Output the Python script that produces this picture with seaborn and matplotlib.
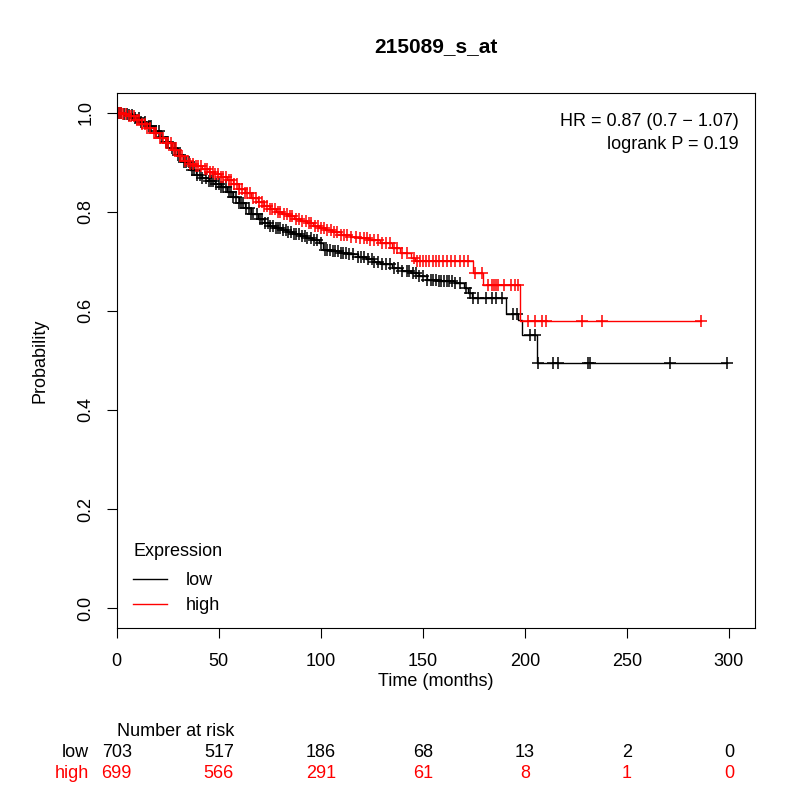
import numpy as np
import pandas as pd
import matplotlib
matplotlib.use("Agg")
from matplotlib import pyplot as plt
import seaborn as sns

# Kaplan-Meier curves (time in months, survival)
low_t = [0, 3, 6, 9, 12, 15, 18, 21, 24, 27, 30, 33, 36, 39, 42, 45, 48, 51, 54,
         57, 60, 63, 66, 69, 72, 75, 78, 81, 84, 87, 90, 93, 96, 99, 101, 105, 110,
         114, 118, 122, 126, 130, 135, 140, 144, 148, 152, 158, 166, 170, 172, 174,
         191, 196.6, 198.5, 206, 299.2]
low_s = [1.0, 0.998, 0.995, 0.99, 0.982, 0.972, 0.962, 0.95, 0.94, 0.928, 0.915,
         0.9, 0.885, 0.875, 0.868, 0.862, 0.856, 0.85, 0.84, 0.83, 0.818, 0.807,
         0.796, 0.785, 0.777, 0.772, 0.767, 0.763, 0.759, 0.755, 0.751, 0.747,
         0.742, 0.736, 0.722, 0.72, 0.717, 0.714, 0.709, 0.704, 0.699, 0.694,
         0.687, 0.681, 0.677, 0.67, 0.663, 0.66, 0.657, 0.646, 0.636, 0.626,
         0.594, 0.582, 0.552, 0.495, 0.495]

high_t = [0, 3, 6, 9, 12, 15, 18, 21, 24, 27, 30, 33, 36, 39, 42, 45, 48, 51, 54,
          57, 60, 63, 66, 69, 72, 75, 78, 81, 84, 87, 90, 93, 96, 99, 102, 106,
          110, 115, 119, 124, 129, 135, 139, 144, 146, 174.5, 179.4, 197.5, 286.3]
high_s = [1.0, 0.998, 0.993, 0.985, 0.977, 0.968, 0.958, 0.948, 0.938, 0.925,
          0.912, 0.903, 0.897, 0.892, 0.887, 0.881, 0.876, 0.871, 0.865, 0.856,
          0.846, 0.837, 0.828, 0.82, 0.812, 0.806, 0.8, 0.795, 0.791, 0.786, 0.782,
          0.777, 0.772, 0.768, 0.764, 0.759, 0.754, 0.75, 0.747, 0.742, 0.737,
          0.727, 0.717, 0.707, 0.7, 0.677, 0.653, 0.58, 0.58]

# censoring times
low_cens = [1, 2, 3.5, 5, 6, 7.5, 9, 11, 12, 14, 16, 17, 19, 20.5, 22, 24, 25, 27,
            28.5, 30, 31, 33, 34, 35.5, 37, 38, 39.5, 41, 42, 43.5, 45, 46, 47,
            48.5, 50, 51, 52, 53.5, 55, 56, 57, 58.5, 60, 61, 62, 63.5, 65, 66, 67,
            68.5, 70, 71, 72.5, 74, 75, 76.5, 78, 79, 80, 81.5, 83, 84, 85.5, 87,
            88, 89.5, 91, 92, 93, 95, 96.5, 98, 100, 102, 103, 104.5, 106, 107,
            108.5, 110, 111, 112.5, 114, 116, 118, 119.5, 121, 123, 125, 126, 128,
            130, 132, 134, 136, 138, 140, 142, 143, 145, 146.5, 148, 150, 152, 154,
            155, 156.5, 158, 159, 160.5, 162, 163, 164.5, 166, 168, 171, 173,
            174.5, 177, 181, 184, 186, 189, 194, 196, 202.5, 205, 206.5, 213.9,
            216.3, 231, 231.9, 271.1, 299.2]
high_cens = [1, 2, 3, 4.5, 6, 7, 8.5, 10, 11, 12.5, 14, 15, 16.5, 18, 19, 21, 22.5,
             24, 25, 26.5, 28, 29, 31, 32, 33.5, 35, 36, 37.5, 39, 40, 41.5, 43, 44,
             45.5, 47, 48, 49.5, 51, 52, 53.5, 55, 56, 57.5, 59, 60, 61.5, 63, 64,
             65.5, 67, 68, 69.5, 71, 72, 73.5, 75, 76, 77.5, 79, 80, 82, 83.5, 85,
             86, 88, 89.5, 91, 92.5, 94, 95, 97, 98.5, 100, 101.5, 103, 105, 106.5,
             108, 110, 111.5, 113, 115, 117, 119, 121, 122.5, 124, 126, 128, 130,
             132, 134, 136, 137.5, 140, 142, 145.5, 147, 148.5, 150, 151.5, 153,
             155, 156.5, 158, 160, 162, 164, 166, 168, 170, 172, 175.5, 179, 182,
             184, 185, 186, 187, 190, 193, 195, 196.5, 201.5, 205, 208.3, 210.3,
             228, 238, 286.3]

risk_times = [0, 50, 100, 150, 200, 250, 300]
risk_low = [703, 517, 186, 68, 13, 2, 0]
risk_high = [699, 566, 291, 61, 8, 1, 0]

plt.rcParams['font.family'] = ['Liberation Sans', 'DejaVu Sans']

fig = plt.figure(figsize=(8, 8), dpi=100)
ax = fig.add_axes([0.146, 0.215, 0.7975, 0.669])


def surv_at(t, s, c):
    t = np.asarray(t)
    s = np.asarray(s)
    idx = np.searchsorted(t, np.asarray(c), side='right') - 1
    return s[idx]


groups = [("low", low_t, low_s, low_cens, "black"),
          ("high", high_t, high_s, high_cens, "#FF0000")]
for name, t, s, cens, col in groups:
    df = pd.DataFrame({"time": t, "surv": s})
    sns.lineplot(data=df, x="time", y="surv", drawstyle="steps-post",
                 color=col, lw=1.0, ax=ax, label=name, estimator=None)
    cdf = pd.DataFrame({"time": cens, "surv": surv_at(t, s, cens)})
    ax.plot(cdf["time"], cdf["surv"], ls="none", marker="+", ms=8, mew=1.1,
            color=col)

ax.set_xlim(0, 312.7)
ax.set_ylim(-0.04, 1.04)
ax.set_xticks(risk_times)
ax.set_xticklabels([str(v) for v in risk_times], fontsize=13)
yt = [0.0, 0.2, 0.4, 0.6, 0.8, 1.0]
ax.set_yticks(yt)
ax.set_yticklabels([f"{v:.1f}" for v in yt], fontsize=13, rotation=90,
                   va="center")
ax.tick_params(direction="out", length=7, width=0.8, pad=9)
ax.tick_params(axis="x", pad=11)
ax.set_xlabel("")
ax.set_ylabel("Probability", fontsize=13, labelpad=21)
for sp in ax.spines.values():
    sp.set_linewidth(0.8)

ax.set_title("215089_s_at", fontsize=15, fontweight="bold", pad=29)

ax.text(0.975, 0.947, "HR = 0.87 (0.7 \u2212 1.07)", transform=ax.transAxes,
        ha="right", va="center", fontsize=13)
ax.text(0.975, 0.904, "logrank P = 0.19", transform=ax.transAxes,
        ha="right", va="center", fontsize=13)

leg = ax.legend(loc="lower left", bbox_to_anchor=(0.0, -0.005), frameon=False,
                title="Expression", alignment="left", fontsize=13,
                title_fontsize=13, handlelength=1.9, handletextpad=1.0,
                labelspacing=0.45)
leg._legend_box.sep = 9

tr = ax.get_xaxis_transform()
ax.text(0.5, -0.1, "Time (months)", transform=ax.transAxes, ha="center",
        va="center", fontsize=13)
ax.text(0, -0.193, "Number at risk", transform=tr, ha="left", va="center",
        fontsize=13)
ax.text(-13.5, -0.232, "low", transform=tr, ha="right", va="center", fontsize=13)
ax.text(-13.5, -0.271, "high", transform=tr, ha="right", va="center",
        fontsize=13, color="#FF0000")
for x, a, b in zip(risk_times, risk_low, risk_high):
    ax.text(x, -0.232, str(a), transform=tr, ha="center", va="center",
            fontsize=13)
    ax.text(x, -0.271, str(b), transform=tr, ha="center", va="center",
            fontsize=13, color="#FF0000")

fig.savefig("out.png", dpi=100)
